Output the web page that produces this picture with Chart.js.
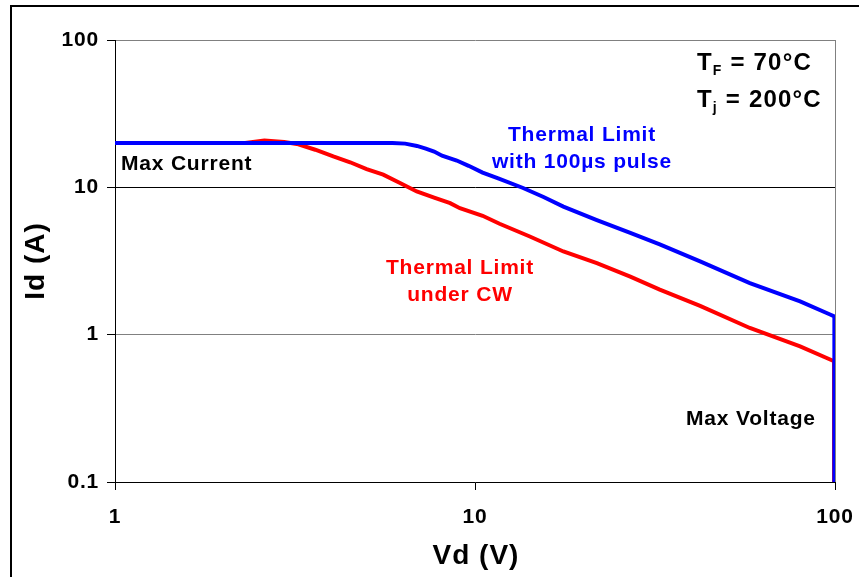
<!DOCTYPE html>
<html>
<head>
<meta charset="utf-8">
<script src="https://cdn.jsdelivr.net/npm/chart.js@4.4.1/dist/chart.umd.min.js"></script>
<style>
  html, body { margin: 0; padding: 0; background: #fff; }
  #wrap { width: 859px; height: 577px; }
</style>
</head>
<body>
<div id="wrap"><canvas id="soa" width="859" height="577"></canvas></div>
<script>
// values (Vd in V, Id in A)
const pulseVd = [1, 5.9, 6.4, 6.9, 7.3, 7.7, 8.1, 8.9, 9.6, 10.5, 11.6, 13.6, 15.5, 17.6, 21.8, 27.0, 32.6, 42.2, 58.0, 80.0, 96.9, 99.6, 99.6];
const pulseId = [20, 20, 19.8, 19.1, 18.3, 17.5, 16.4, 15.2, 14.0, 12.6, 11.5, 9.9, 8.6, 7.4, 6.0, 4.9, 4.1, 3.14, 2.24, 1.68, 1.37, 1.33, 0.1];

const cwVd = [1, 2.3, 2.6, 2.95, 3.2, 3.6, 4.04, 4.5, 5.0, 5.56, 6.19, 6.89, 7.7, 8.53, 9.08, 10.5, 11.7, 14.2, 17.6, 21.8, 27.0, 32.6, 42.2, 58.0, 80.0, 98.0, 99.4, 99.4];
const cwId = [20, 20, 20.8, 20.3, 19.7, 18.0, 16.2, 14.8, 13.3, 12.2, 10.7, 9.37, 8.5, 7.81, 7.22, 6.41, 5.66, 4.64, 3.67, 3.06, 2.48, 2.02, 1.57, 1.11, 0.833, 0.67, 0.66, 0.1];

const xTicks = [1, 10, 100];
const yTicks = [0.1, 1, 10, 100];

const FONT = "'Liberation Sans', Arial, sans-serif";
Chart.defaults.font.family = FONT;
Chart.defaults.color = "#000";

function pts(xs, ys) {
  return xs.map((x, i) => ({ x: x, y: ys[i] }));
}

// frame, right border and the text notes
const decor = {
  id: "decor",
  beforeDraw(chart) {
    chart.ctx.letterSpacing = "0.8px";
  },
  afterDraw(chart) {
    const ctx = chart.ctx;
    const a = chart.chartArea;
    ctx.save();
    ctx.strokeStyle = "#000";
    ctx.lineWidth = 2;
    ctx.beginPath();
    ctx.moveTo(11, 577);
    ctx.lineTo(11, 6);
    ctx.lineTo(859, 6);
    ctx.stroke();

    ctx.strokeStyle = "#808080";
    ctx.lineWidth = 1;
    ctx.beginPath();
    ctx.moveTo(a.right + 0.5, a.top);
    ctx.lineTo(a.right + 0.5, a.bottom);
    ctx.stroke();

    ctx.textBaseline = "alphabetic";
    ctx.font = "bold 21px " + FONT;
    ctx.letterSpacing = "0.8px";
    ctx.fillStyle = "#000";
    ctx.textAlign = "left";
    ctx.fillText("Max Current", 121, 170);
    ctx.fillText("Max Voltage", 686, 425);

    ctx.textAlign = "center";
    ctx.fillStyle = "#0000ff";
    ctx.fillText("Thermal Limit", 582, 141);
    ctx.fillText("with 100\u00b5s pulse", 582, 168);
    ctx.fillStyle = "#ff0000";
    ctx.fillText("Thermal Limit", 460, 274);
    ctx.fillText("under CW", 460, 301);

    // T_F and T_j
    ctx.fillStyle = "#000";
    ctx.textAlign = "left";
    ctx.letterSpacing = "1.2px";
    const notes = [["F", " = 70\u00b0C", 70], ["j", " = 200\u00b0C", 107]];
    notes.forEach(n => {
      let x = 697;
      ctx.font = "bold 24px " + FONT;
      ctx.fillText("T", x, n[2]);
      x += ctx.measureText("T").width;
      ctx.font = "bold 14px " + FONT;
      ctx.fillText(n[0], x, n[2] + 5);
      x += ctx.measureText(n[0]).width;
      ctx.font = "bold 24px " + FONT;
      ctx.fillText(n[1], x, n[2]);
    });

    // axis titles
    ctx.font = "bold 28px " + FONT;
    ctx.letterSpacing = "1px";
    ctx.textAlign = "center";
    ctx.fillText("Vd (V)", 476, 564);
    ctx.save();
    ctx.translate(44, 261);
    ctx.rotate(-Math.PI / 2);
    ctx.fillText("Id (A)", 0, 0);
    ctx.restore();
    ctx.restore();
  }
};

new Chart(document.getElementById("soa").getContext("2d"), {
  type: "line",
  data: {
    datasets: [
      { label: "Thermal Limit with 100us pulse", data: pts(pulseVd, pulseId),
        borderColor: "#0000ff", borderWidth: 4, pointRadius: 0, tension: 0 },
      { label: "Thermal Limit under CW", data: pts(cwVd, cwId),
        borderColor: "#ff0000", borderWidth: 4, pointRadius: 0, tension: 0 }
    ]
  },
  options: {
    responsive: false,
    animation: false,
    layout: { padding: { left: 0, top: 40, right: 24, bottom: 0 } },
    plugins: { legend: { display: false }, tooltip: { enabled: false } },
    scales: {
      x: {
        type: "logarithmic", min: 1, max: 100,
        afterBuildTicks: s => { s.ticks = xTicks.map(v => ({ value: v })); },
        afterFit: s => { s.height = 95; s.paddingLeft = 0; s.paddingRight = 0; },
        ticks: { callback: v => String(v), autoSkip: false, maxRotation: 0, padding: 15,
                 font: { size: 21, weight: "bold" }, color: "#000" },
        grid: { drawOnChartArea: false, tickLength: 8, color: "#000" },
        border: { display: true, color: "#000", width: 1 }
      },
      y: {
        type: "logarithmic", min: 0.1, max: 100,
        afterBuildTicks: s => { s.ticks = yTicks.map(v => ({ value: v })); },
        afterFit: s => { s.width = 115; s.paddingTop = 0; s.paddingBottom = 0; },
        ticks: { callback: v => String(v), autoSkip: false, padding: 8,
                 font: { size: 21, weight: "bold" }, color: "#000" },
        grid: { color: c => (c.tick && c.tick.value === 10 ? "#000" : "#808080"),
                tickColor: "#000", tickLength: 8 },
        border: { display: true, color: "#000", width: 1 }
      }
    }
  },
  plugins: [decor]
});
</script>
</body>
</html>
